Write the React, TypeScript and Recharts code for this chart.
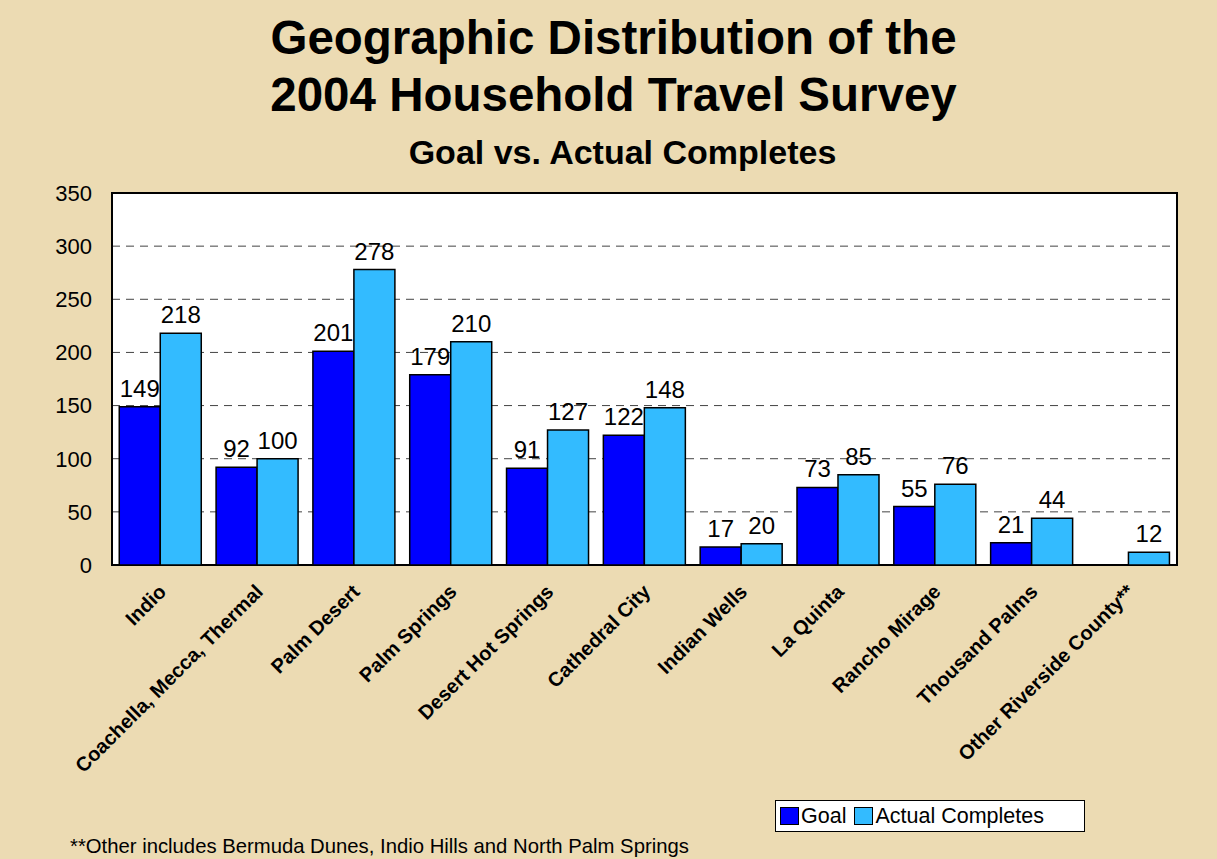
import { BarChart, Bar, XAxis, YAxis, CartesianGrid, Legend, LabelList, ReferenceArea } from "recharts";

const areas = [
  "Indio",
  "Coachella, Mecca, Thermal",
  "Palm Desert",
  "Palm Springs",
  "Desert Hot Springs",
  "Cathedral City",
  "Indian Wells",
  "La Quinta",
  "Rancho Mirage",
  "Thousand Palms",
  "Other Riverside County**",
];
const goal = [149, 92, 201, 179, 91, 122, 17, 73, 55, 21, null];
const actual = [218, 100, 278, 210, 127, 148, 20, 85, 76, 44, 12];
const yTicks = [0, 50, 100, 150, 200, 250, 300, 350];

const data = areas.map((name, i) => ({ name, goal: goal[i], actual: actual[i] }));

const FONT = '"Liberation Sans", Arial, sans-serif';
const GOAL_COLOR = "#0000ff";
const ACTUAL_COLOR = "#33bbff";

function AreaTick(props: any) {
  const { x, y, payload } = props;
  const ax = x + 7;
  const ay = y + 20;
  return (
    <text
      x={ax}
      y={ay}
      transform={`rotate(-45, ${ax}, ${ay})`}
      textAnchor="end"
      fontFamily={FONT}
      fontWeight="bold"
      fontSize={20}
      fill="#000"
    >
      {payload.value}
    </text>
  );
}

function LegendBox() {
  const item = (color: string, label: string) => (
    <span style={{ display: "inline-flex", alignItems: "center", marginRight: 8 }}>
      <span
        style={{
          display: "inline-block",
          width: 17,
          height: 16,
          background: color,
          border: "1.5px solid #000",
          marginRight: 2,
        }}
      />
      <span>{label}</span>
    </span>
  );
  return (
    <div
      style={{
        background: "#fff",
        border: "1.5px solid #000",
        width: 310,
        height: 32,
        boxSizing: "border-box",
        display: "flex",
        alignItems: "center",
        paddingLeft: 4,
        fontFamily: FONT,
        fontSize: 21.5,
        color: "#000",
      }}
    >
      {item(GOAL_COLOR, "Goal")}
      {item(ACTUAL_COLOR, "Actual Completes")}
    </div>
  );
}

export default function App() {
  return (
    <div
      style={{
        position: "absolute",
        left: 0,
        top: 0,
        width: 1217,
        height: 859,
        background: "#ecdbb3",
        overflow: "hidden",
      }}
    >
      <div
        style={{
          position: "absolute",
          left: 0,
          width: 1217,
          top: 9,
          textAlign: "center",
          fontFamily: FONT,
          fontWeight: "bold",
          fontSize: 47.5,
          lineHeight: "57px",
          color: "#000",
          paddingLeft: 5,
        }}
      >
        Geographic Distribution of the
        <br />
        2004 Household Travel Survey
      </div>
      <div
        style={{
          position: "absolute",
          left: 0,
          width: 1217,
          top: 133,
          textAlign: "center",
          fontFamily: FONT,
          fontWeight: "bold",
          fontSize: 34,
          color: "#000",
          paddingLeft: 14,
        }}
      >
        Goal vs. Actual Completes
      </div>
      <BarChart
        width={1217}
        height={859}
        data={data}
        margin={{ top: 193, right: 40, bottom: 94, left: 40 }}
        barCategoryGap="7.5%"
        barGap={0}
        style={{ position: "absolute", left: 0, top: 0 }}
      >
        <CartesianGrid
          vertical={false}
          horizontal
          fill="#ffffff"
          stroke="#444"
          strokeDasharray="8 6"
        />
        <XAxis
          dataKey="name"
          interval={0}
          height={168}
          tickLine={false}
          axisLine={false}
          tick={<AreaTick />}
        />
        <YAxis
          domain={[0, 350]}
          ticks={yTicks}
          width={72}
          tickLine={false}
          tickSize={0}
          tickMargin={20}
          axisLine={false}
          tick={{ fontFamily: FONT, fontSize: 22, fill: "#000" }}
        />
        <ReferenceArea y1={0} y2={350} fill="none" stroke="#000" strokeWidth={2} />
        <Legend
          verticalAlign="bottom"
          content={<LegendBox />}
          wrapperStyle={{ position: "absolute", left: 775, top: 800, width: 310, bottom: "auto" }}
        />
        <Bar dataKey="goal" name="Goal" fill={GOAL_COLOR} stroke="#000" strokeWidth={1.5} isAnimationActive={false}>
          <LabelList dataKey="goal" position="top" offset={10} fill="#000" fontFamily={FONT} fontSize={24} />
        </Bar>
        <Bar dataKey="actual" name="Actual Completes" fill={ACTUAL_COLOR} stroke="#000" strokeWidth={1.5} isAnimationActive={false}>
          <LabelList dataKey="actual" position="top" offset={10} fill="#000" fontFamily={FONT} fontSize={24} />
        </Bar>
      </BarChart>
      <div
        style={{
          position: "absolute",
          left: 70,
          top: 835,
          fontFamily: '"Liberation Sans Narrow", "Arial Narrow", sans-serif',
          fontSize: 20.3,
          color: "#000",
          whiteSpace: "nowrap",
        }}
      >
        **Other includes Bermuda Dunes, Indio Hills and North Palm Springs
      </div>
    </div>
  );
}
